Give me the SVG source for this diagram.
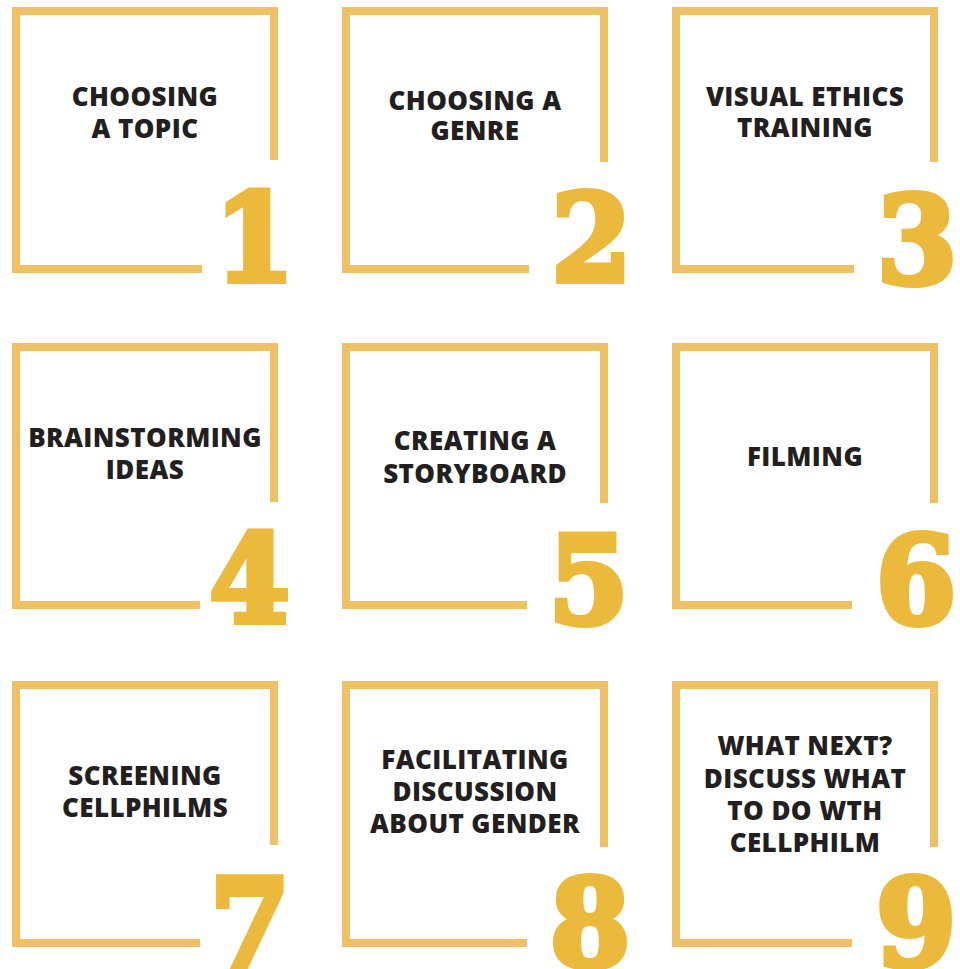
<svg xmlns="http://www.w3.org/2000/svg" width="960" height="969" viewBox="0 0 960 969">
<style>
.frame{fill:none;stroke:#F0C065;stroke-width:8;stroke-linecap:butt;stroke-linejoin:miter}
.lbl{font-family:"Open Sans","Liberation Sans",sans-serif;font-weight:800;font-size:26px;letter-spacing:0.4px;fill:#231F20;text-anchor:middle}
.num{font-family:"DejaVu Serif","Liberation Serif",serif;font-weight:bold;font-size:122px;fill:#EBB93B;stroke:#EBB93B;stroke-width:6;stroke-linejoin:miter;text-anchor:middle}
</style>
<rect width="960" height="969" fill="#FFFFFF"/>
<g id="step1">
<path class="frame" d="M274 160 V11 H16 V269 H202"/>
<text class="lbl" x="145" y="106">CHOOSING</text>
<text class="lbl" x="145" y="138">A TOPIC</text>
<text class="num" transform="translate(254.5 281) scale(0.95 1)">1</text>
</g>
<g id="step2">
<path class="frame" d="M604 162 V11 H346 V269 H529"/>
<text class="lbl" x="475" y="110">CHOOSING A</text>
<text class="lbl" x="475" y="140">GENRE</text>
<text class="num" transform="translate(591.5 281) scale(0.95 1)">2</text>
</g>
<g id="step3">
<path class="frame" d="M934 162 V11 H676 V269 H854"/>
<text class="lbl" x="805" y="106">VISUAL ETHICS</text>
<text class="lbl" x="805" y="137">TRAINING</text>
<text class="num" transform="translate(917 283) scale(0.95 1)">3</text>
</g>
<g id="step4">
<path class="frame" d="M274 502 V347 H16 V605 H200"/>
<text class="lbl" x="145" y="447">BRAINSTORMING</text>
<text class="lbl" x="145" y="479">IDEAS</text>
<text class="num" transform="translate(249.5 622) scale(0.95 1)">4</text>
</g>
<g id="step5">
<path class="frame" d="M604 503 V347 H346 V605 H527"/>
<text class="lbl" x="475" y="450">CREATING A</text>
<text class="lbl" x="475" y="483">STORYBOARD</text>
<text class="num" transform="translate(588.5 623) scale(0.95 1)">5</text>
</g>
<g id="step6">
<path class="frame" d="M934 503 V347 H676 V605 H852"/>
<text class="lbl" x="805" y="466">FILMING</text>
<text class="num" transform="translate(916 623) scale(0.95 1)">6</text>
</g>
<g id="step7">
<path class="frame" d="M274 845 V685 H16 V943 H200"/>
<text class="lbl" x="145" y="785">SCREENING</text>
<text class="lbl" x="145" y="817">CELLPHILMS</text>
<text class="num" transform="translate(250 966) scale(0.95 1)">7</text>
</g>
<g id="step8">
<path class="frame" d="M604 847 V685 H346 V943 H527"/>
<text class="lbl" x="475" y="769">FACILITATING</text>
<text class="lbl" x="475" y="801">DISCUSSION</text>
<text class="lbl" x="475" y="833">ABOUT GENDER</text>
<text class="num" transform="translate(590 966) scale(0.95 1)">8</text>
</g>
<g id="step9">
<path class="frame" d="M934 847 V685 H676 V943 H852"/>
<text class="lbl" x="805" y="755">WHAT NEXT?</text>
<text class="lbl" x="805" y="788">DISCUSS WHAT</text>
<text class="lbl" x="805" y="820">TO DO WTH</text>
<text class="lbl" x="805" y="852">CELLPHILM</text>
<text class="num" transform="translate(916 966) scale(0.95 1)">9</text>
</g>
<g id="connectors"></g>
</svg>
